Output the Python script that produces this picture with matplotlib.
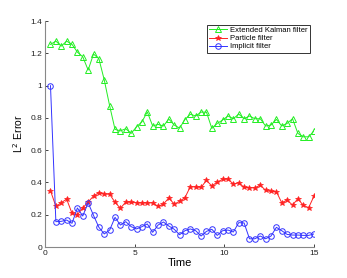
import matplotlib
matplotlib.use("Agg")
import matplotlib.pyplot as plt
import numpy as np

time = [round(0.3 * i, 1) for i in range(1, 51)]

ekf = [1.256, 1.276, 1.245, 1.276, 1.256, 1.208, 1.179, 1.097, 1.196, 1.167,
       1.035, 0.875, 0.729, 0.720, 0.733, 0.704, 0.745, 0.776, 0.837, 0.750,
       0.760, 0.750, 0.793, 0.756, 0.737, 0.790, 0.823, 0.812, 0.836, 0.836,
       0.735, 0.766, 0.787, 0.812, 0.795, 0.824, 0.795, 0.812, 0.795, 0.795,
       0.750, 0.756, 0.791, 0.750, 0.766, 0.795, 0.704, 0.683, 0.683, 0.720]

particle = [0.349, 0.252, 0.274, 0.297, 0.209, 0.200, 0.242, 0.279, 0.316, 0.337,
            0.328, 0.327, 0.277, 0.240, 0.279, 0.277, 0.274, 0.274, 0.273, 0.274,
            0.252, 0.266, 0.304, 0.266, 0.283, 0.306, 0.374, 0.372, 0.370, 0.413,
            0.378, 0.403, 0.419, 0.421, 0.390, 0.398, 0.370, 0.368, 0.366, 0.384,
            0.351, 0.345, 0.343, 0.274, 0.291, 0.260, 0.299, 0.258, 0.244, 0.316]

implicit = [1.000, 0.157, 0.159, 0.167, 0.147, 0.242, 0.192, 0.274, 0.196, 0.122,
            0.081, 0.105, 0.184, 0.136, 0.157, 0.126, 0.112, 0.126, 0.143, 0.091,
            0.136, 0.155, 0.130, 0.110, 0.076, 0.101, 0.112, 0.101, 0.068, 0.097,
            0.110, 0.072, 0.101, 0.105, 0.093, 0.151, 0.149, 0.051, 0.051, 0.068,
            0.051, 0.068, 0.122, 0.101, 0.078, 0.074, 0.074, 0.072, 0.072, 0.081]

series_names = ["Extended Kalman filter", "Particle filter", "Implicit filter"]
xticks = [0, 5, 10, 15]
yticks = [0, 0.2, 0.4, 0.6, 0.8, 1.0, 1.2, 1.4]
yticklabels = ["0", "0.2", "0.4", "0.6", "0.8", "1", "1.2", "1.4"]

plt.rcParams['font.family'] = ['Liberation Sans', 'DejaVu Sans']

fig = plt.figure(figsize=(3.47, 2.78), dpi=100)
ax = fig.add_axes([0.130, 0.1115, 0.775, 0.8125])

ax.plot(time, ekf, color='#22ee22', lw=0.7, marker='^', ms=4.0, mfc='none',
        mec='#22ee22', mew=0.7, label=series_names[0])
ax.plot(time, particle, color='#ff2222', lw=0.7, marker='*', ms=3.8,
        mfc='#ff2222', mec='#ff2222', mew=0.5, label=series_names[1])
ax.plot(time, implicit, color='#3333ff', lw=0.7, marker='o', ms=4.0, mfc='none',
        mec='#3333ff', mew=0.7, label=series_names[2])

ax.set_xlim(0, 15)
ax.set_ylim(0, 1.4)
ax.set_xticks(xticks)
ax.set_yticks(yticks)
ax.set_yticklabels(yticklabels)
ax.tick_params(direction='in', length=2.5, width=0.6, labelsize=6, colors='#222222',
               pad=2)
for s in ['top', 'right']:
    ax.spines[s].set_visible(False)
for s in ['left', 'bottom']:
    ax.spines[s].set_color('#888888')
    ax.spines[s].set_linewidth(0.8)

ax.set_xlabel("Time", fontsize=8, labelpad=1)
ax.set_ylabel("L$^2$ Error", fontsize=7.5, labelpad=4)

leg = ax.legend(loc='upper right', bbox_to_anchor=(0.985, 0.985), fontsize=5.5,
                frameon=True, fancybox=False, edgecolor='black',
                borderpad=0.3, labelspacing=0.1, handlelength=2.4,
                handletextpad=0.4, borderaxespad=0.0)
leg.get_frame().set_linewidth(0.7)

fig.savefig("out.png", dpi=100)
